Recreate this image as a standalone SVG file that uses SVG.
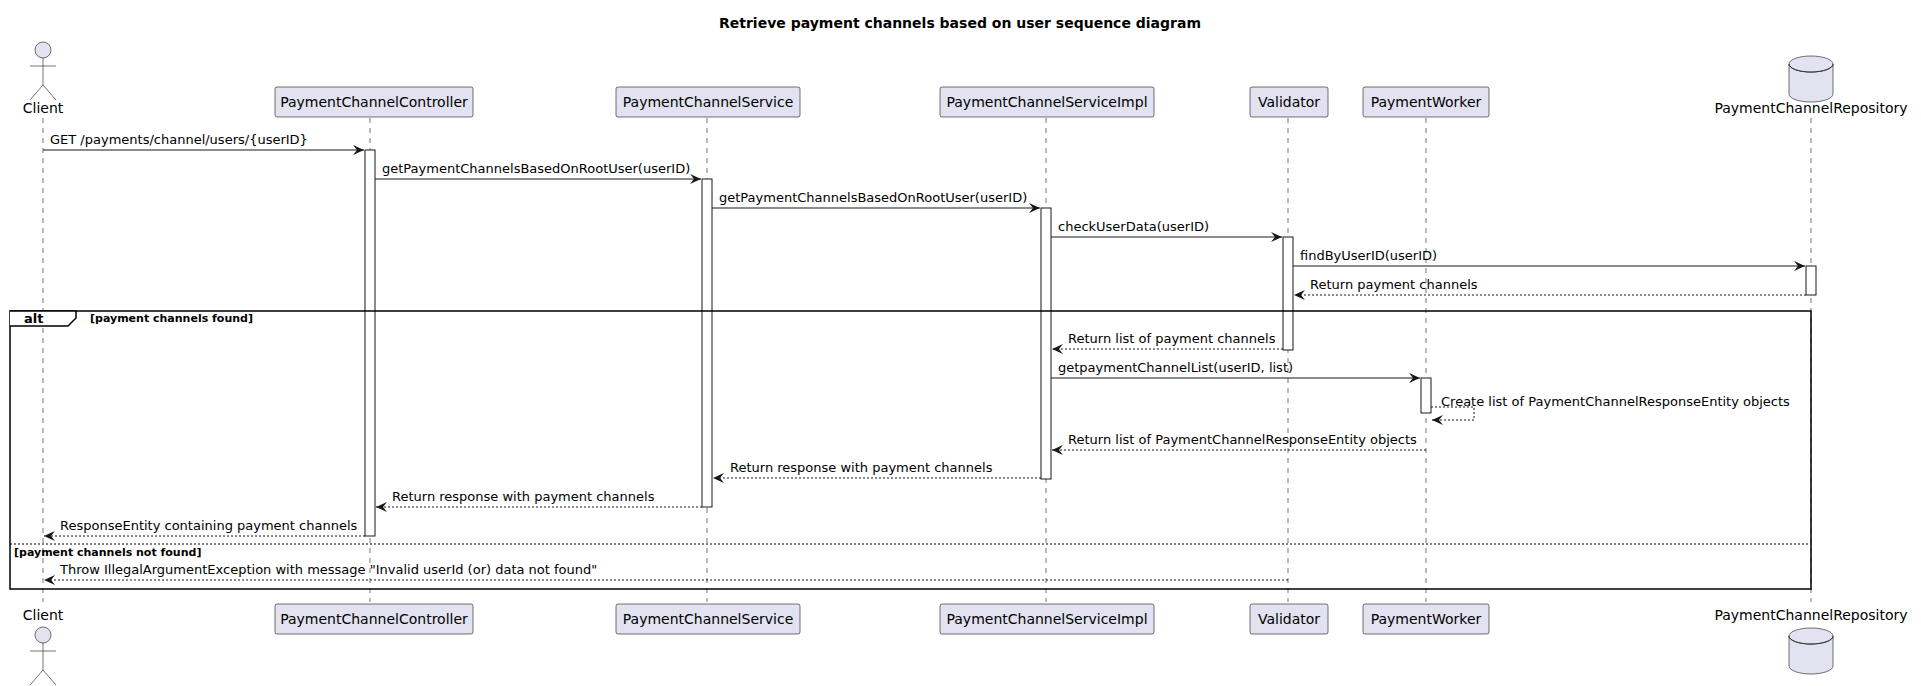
<svg xmlns="http://www.w3.org/2000/svg" width="1921" height="686" viewBox="0 0 1921 686">
<style>
text{font-family:"DejaVu Sans",sans-serif;font-size:13px;fill:#000}
.p{font-size:14px}
.t{font-weight:bold;font-size:14px}
.b{font-weight:bold;font-size:11px}
.box{fill:#E2E2F0;stroke:#181818;stroke-width:0.6}
.life{stroke:#181818;stroke-width:0.6;stroke-dasharray:5,5}
.act{fill:#fff;stroke:#181818;stroke-width:1}
.m{stroke:#181818;stroke-width:1;fill:none;marker-end:url(#a)}
.r{stroke:#181818;stroke-width:1;fill:none;stroke-dasharray:2,2;marker-end:url(#a)}
.frame{fill:none;stroke:#000;stroke-width:1.5}
</style>
<defs>
<marker id="a" markerWidth="12" markerHeight="10" refX="11" refY="5" orient="auto" markerUnits="userSpaceOnUse"><path d="M0,0 L11,5 L0,10 L4,5 Z" fill="#181818"/></marker>
<g id="actor"><circle cx="0" cy="8" r="8" class="box"/><path d="M0,16 V43 M-13,24 H13 M0,43 L-13,58 M0,43 L13,58" stroke="#181818" stroke-width="0.6" fill="none"/></g>
<g id="db"><path d="M-22,8 V38 A22,8 0 0 0 22,38 V8" class="box"/><path d="M-22,8 A22,8 0 0 0 22,8" fill="none" stroke="#181818" stroke-width="0.6"/><ellipse cx="0" cy="8" rx="22" ry="8" class="box"/><path d="M-22,8 A22,8 0 0 0 22,8" fill="none" stroke="#181818" stroke-width="0.6"/></g>
</defs>
<rect width="1921" height="686" fill="#fff"/>
<text x="960" y="28" class="t" text-anchor="middle">Retrieve payment channels based on user sequence diagram</text>
<g id="lifelines">
<line x1="43" y1="118" x2="43" y2="602" class="life"/>
<line x1="370" y1="118" x2="370" y2="602" class="life"/>
<line x1="707" y1="118" x2="707" y2="602" class="life"/>
<line x1="1046" y1="118" x2="1046" y2="602" class="life"/>
<line x1="1288" y1="118" x2="1288" y2="602" class="life"/>
<line x1="1426" y1="118" x2="1426" y2="602" class="life"/>
<line x1="1811" y1="118" x2="1811" y2="602" class="life"/>
</g>
<g id="Client"><use href="#actor" x="43" y="42"/><text x="43" y="113" class="p" text-anchor="middle">Client</text>
<text x="43" y="620" class="p" text-anchor="middle">Client</text><use href="#actor" x="43" y="627"/></g>
<g id="PaymentChannelController"><rect x="275" y="87" width="198" height="30" rx="2" class="box"/><text x="374" y="107" class="p" text-anchor="middle">PaymentChannelController</text>
<rect x="275" y="604" width="198" height="30" rx="2" class="box"/><text x="374" y="624" class="p" text-anchor="middle">PaymentChannelController</text></g>
<g id="PaymentChannelService"><rect x="616" y="87" width="184" height="30" rx="2" class="box"/><text x="708" y="107" class="p" text-anchor="middle">PaymentChannelService</text>
<rect x="616" y="604" width="184" height="30" rx="2" class="box"/><text x="708" y="624" class="p" text-anchor="middle">PaymentChannelService</text></g>
<g id="PaymentChannelServiceImpl"><rect x="940" y="87" width="214" height="30" rx="2" class="box"/><text x="1047" y="107" class="p" text-anchor="middle">PaymentChannelServiceImpl</text>
<rect x="940" y="604" width="214" height="30" rx="2" class="box"/><text x="1047" y="624" class="p" text-anchor="middle">PaymentChannelServiceImpl</text></g>
<g id="Validator"><rect x="1250" y="87" width="78" height="30" rx="2" class="box"/><text x="1289" y="107" class="p" text-anchor="middle">Validator</text>
<rect x="1250" y="604" width="78" height="30" rx="2" class="box"/><text x="1289" y="624" class="p" text-anchor="middle">Validator</text></g>
<g id="PaymentWorker"><rect x="1363" y="87" width="126" height="30" rx="2" class="box"/><text x="1426" y="107" class="p" text-anchor="middle">PaymentWorker</text>
<rect x="1363" y="604" width="126" height="30" rx="2" class="box"/><text x="1426" y="624" class="p" text-anchor="middle">PaymentWorker</text></g>
<g id="PaymentChannelRepository"><use href="#db" x="1811" y="56"/><text x="1811" y="113" class="p" text-anchor="middle">PaymentChannelRepository</text>
<text x="1811" y="620" class="p" text-anchor="middle">PaymentChannelRepository</text><use href="#db" x="1811" y="628"/></g>
<g id="activations">
<rect x="365" y="150" width="10" height="386" class="act"/>
<rect x="702" y="179" width="10" height="328" class="act"/>
<rect x="1041" y="208" width="10" height="271" class="act"/>
<rect x="1283" y="237" width="10" height="113" class="act"/>
<rect x="1806" y="266" width="10" height="29" class="act"/>
<rect x="1421" y="378" width="10" height="35" class="act"/>
</g>
<g id="connectors">
<line x1="43" y1="150" x2="364" y2="150" class="m"/><text x="50" y="144">GET /payments/channel/users/{userID}</text>
<line x1="375" y1="179" x2="701" y2="179" class="m"/><text x="382" y="173">getPaymentChannelsBasedOnRootUser(userID)</text>
<line x1="712" y1="208" x2="1040" y2="208" class="m"/><text x="719" y="202">getPaymentChannelsBasedOnRootUser(userID)</text>
<line x1="1051" y1="237" x2="1282" y2="237" class="m"/><text x="1058" y="231">checkUserData(userID)</text>
<line x1="1293" y1="266" x2="1805" y2="266" class="m"/><text x="1300" y="260">findByUserID(userID)</text>
<line x1="1806" y1="295" x2="1294" y2="295" class="r"/><text x="1310" y="289">Return payment channels</text>
<line x1="1283" y1="349" x2="1052" y2="349" class="r"/><text x="1068" y="343">Return list of payment channels</text>
<line x1="1051" y1="378" x2="1420" y2="378" class="m"/><text x="1058" y="372">getpaymentChannelList(userID, list)</text>
<path d="M1431,407 H1474 V420 H1432" class="r"/><text x="1441" y="406">Create list of PaymentChannelResponseEntity objects</text>
<line x1="1426" y1="450" x2="1052" y2="450" class="r"/><text x="1068" y="444">Return list of PaymentChannelResponseEntity objects</text>
<line x1="1041" y1="478" x2="713" y2="478" class="r"/><text x="730" y="472">Return response with payment channels</text>
<line x1="702" y1="507" x2="376" y2="507" class="r"/><text x="392" y="501">Return response with payment channels</text>
<line x1="365" y1="536" x2="44" y2="536" class="r"/><text x="60" y="530">ResponseEntity containing payment channels</text>
<line x1="1288" y1="580" x2="44" y2="580" class="r"/><text x="60" y="574">Throw IllegalArgumentException with message "Invalid userId (or) data not found"</text>
</g>
<g id="alt">
<rect x="10" y="311" width="1801" height="278" class="frame"/>
<path d="M10,311 H76 V318 L68,326 H10" fill="#fff" stroke="#000" stroke-width="1.5"/>
<text x="24" y="323" class="t" style="font-size:13px">alt</text>
<text x="90" y="322" class="b">[payment channels found]</text>
<line x1="10" y1="544" x2="1811" y2="544" stroke="#000" stroke-width="1" stroke-dasharray="2,2"/>
<text x="14" y="556" class="b">[payment channels not found]</text>
</g>
</svg>
